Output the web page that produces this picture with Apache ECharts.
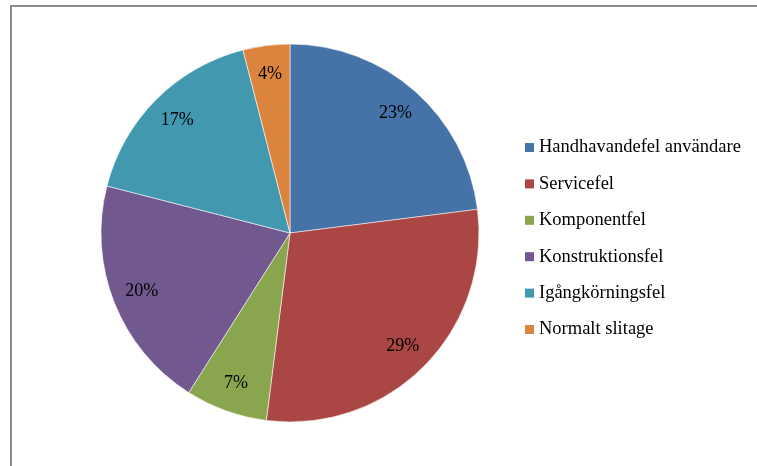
<!DOCTYPE html>
<html>
<head>
<meta charset="utf-8">
<script src="https://cdn.jsdelivr.net/npm/echarts@6/dist/echarts.min.js"></script>
<style>
  html, body { margin: 0; padding: 0; background: #fff; }
  #frame { position: absolute; left: 10px; top: 5px; width: 760px; height: 470px;
           border: 2px solid #8c8c8c; box-sizing: border-box; }
  #chart { position: absolute; left: 0; top: 0; width: 757px; height: 466px; }
</style>
</head>
<body>
<div id="frame"></div>
<div id="chart"></div>
<script>
// Fault causes, share in percent
const categories = [
  'Handhavandefel användare',
  'Servicefel',
  'Komponentfel',
  'Konstruktionsfel',
  'Igångkörningsfel',
  'Normalt slitage'
];
const shares = [23, 29, 7, 20, 17, 4];
const colors = ['#4572A7', '#AA4643', '#89A54E', '#71588F', '#4198AF', '#DB843D'];

const data = categories.map((name, i) => ({ name, value: shares[i] }));
const font = '"Liberation Serif", "Times New Roman", serif';

const chart = echarts.init(document.getElementById('chart'), null, { renderer: 'canvas' });
chart.setOption({
  animation: false,
  color: colors,
  legend: {
    orient: 'vertical',
    left: 525,
    top: 138,
    padding: 0,
    itemWidth: 9,
    itemHeight: 9,
    itemGap: 17.4,
    icon: 'rect',
    itemStyle: { borderWidth: 0 },
    textStyle: { fontFamily: font, fontSize: 18.5, color: '#000', padding: [0, 0, 0, 0] },
    data: categories
  },
  series: [
    {
      type: 'pie',
      center: [290, 233],
      radius: [0, 189],
      startAngle: 90,
      clockwise: true,
      data: data,
      itemStyle: { borderColor: 'rgba(255,255,255,0.7)', borderWidth: 0.8 },
      label: { show: false },
      labelLine: { show: false },
      emphasis: { disabled: true }
    },
    {
      // label ring: places the percentage text toward the outer edge of each slice
      type: 'pie',
      center: [290, 233],
      radius: [124, 189],
      startAngle: 90,
      clockwise: true,
      silent: true,
      data: data,
      itemStyle: { color: 'rgba(0,0,0,0)' },
      label: {
        show: true,
        position: 'inside',
        formatter: '{c}%',
        fontFamily: font,
        fontSize: 18,
        color: '#000'
      },
      labelLine: { show: false },
      emphasis: { disabled: true }
    }
  ]
});
</script>
</body>
</html>
